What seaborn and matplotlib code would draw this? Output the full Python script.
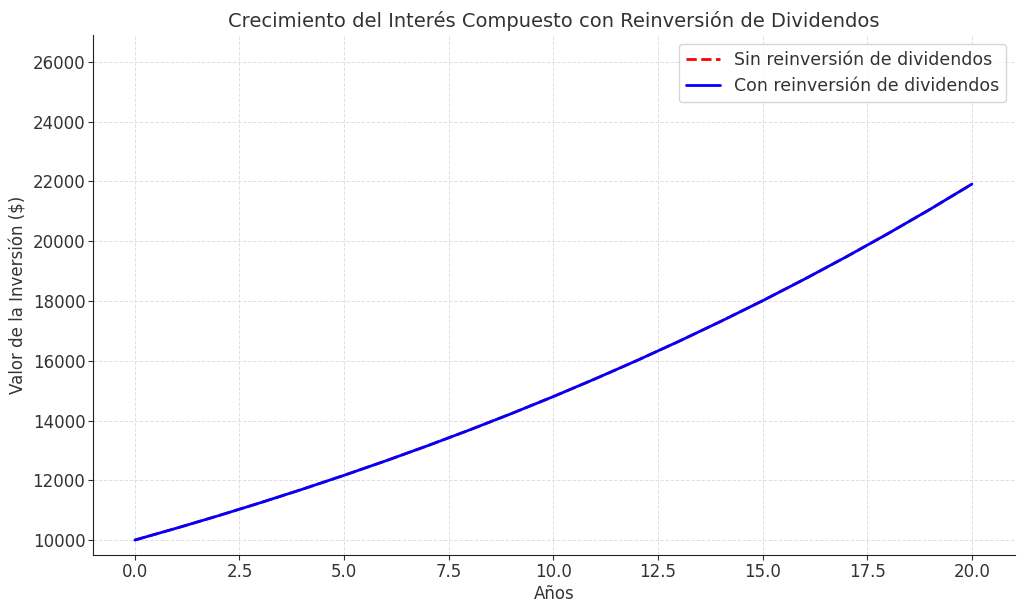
import matplotlib
matplotlib.use("Agg")
import matplotlib.pyplot as plt
import seaborn as sns
import pandas as pd

years = list(range(0, 21))
sin_reinversion = [10000, 10400, 10816, 11249, 11699, 12167, 12653, 13159, 13686, 14233,
                   14802, 15395, 16010, 16651, 17317, 18009, 18730, 19479, 20258, 21068, 21911]
con_reinversion = [10000, 10400, 10816, 11249, 11699, 12167, 12653, 13159, 13686, 14233,
                   14802, 15395, 16010, 16651, 17317, 18009, 18730, 19479, 20258, 21068, 21911]

df = pd.DataFrame({"Años": years, "sin": sin_reinversion, "con": con_reinversion})

sns.set_style("white")
plt.rcParams['font.family'] = ['DejaVu Sans']

fig = plt.figure(figsize=(10.24, 6.1), dpi=100)
ax = fig.add_axes([93/1024, 1-555/610, (1015-93)/1024, (555-35)/610])

sns.lineplot(data=df, x="Años", y="sin", ax=ax, color="red", linestyle="--", linewidth=2,
             label="Sin reinversión de dividendos")
sns.lineplot(data=df, x="Años", y="con", ax=ax, color="blue", linewidth=2,
             label="Con reinversión de dividendos")

ax.set_xlim(-1, 21.03)
ax.set_ylim(9500, 26900)
ax.set_yticks(range(10000, 26001, 2000))
ax.set_title("Crecimiento del Interés Compuesto con Reinversión de Dividendos", fontsize=14, color="#333333")
ax.set_xlabel("Años", fontsize=12, color="#333333", labelpad=3)
ax.set_ylabel("Valor de la Inversión ($)", fontsize=12, color="#333333", labelpad=4)
ax.grid(True, linestyle="--", color="#e0e0e0", linewidth=0.7)
for s in ["top", "right"]:
    ax.spines[s].set_visible(False)
for s in ["left", "bottom"]:
    ax.spines[s].set_color("#222222")
ax.tick_params(axis="both", labelsize=12, colors="#333333", length=3.5, pad=2, direction="out", left=True, bottom=True)
leg = ax.legend(loc="upper right", fontsize=12.5, frameon=True)
for t in leg.get_texts():
    t.set_color("#333333")

fig.savefig("out.png", dpi=100)
